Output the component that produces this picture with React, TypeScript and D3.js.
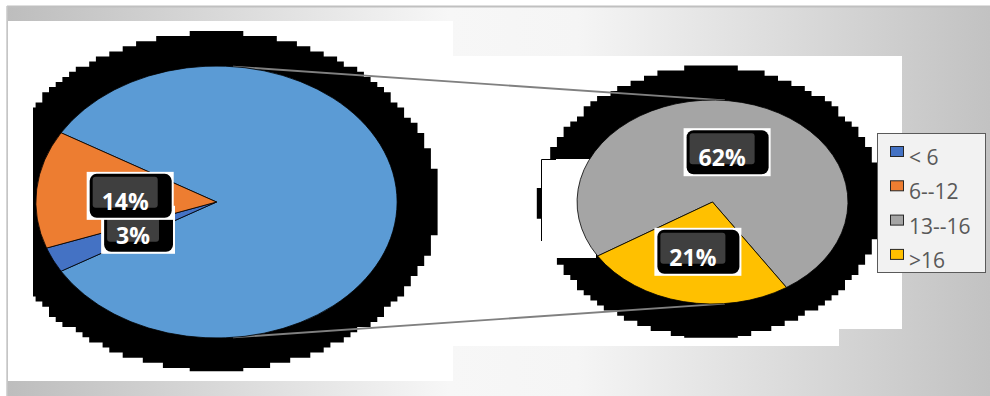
import React from "react";
import * as d3 from "d3";

// ---- data ----
const categories = ["< 6", "6--12", "13--16", ">16"];
const values = [3, 14, 62, 21];
const colors = ["#4472C4", "#ED7D31", "#A5A5A5", "#FFC000"];
const otherColor = "#5B9BD5";
const secondPlotCount = 2;

// ---- layout ----
const W = 990;
const H = 396;
const SX = 1.328; // horizontal stretch of the picture
const big = { cx: 216.5, cy: 202, r: 136 };
const small = { cx: 712.5, cy: 202, r: 102 };
const secondStartDeg = -122;
const labelFont = "bold 23px 'Open Sans'";
const legendFont = "21px 'Open Sans'";

function measure(text: string, font: string): number {
  if (typeof document === "undefined") return text.length * 12;
  const c = document.createElement("canvas").getContext("2d");
  if (!c) return text.length * 12;
  c.font = font;
  return c.measureText(text).width;
}

function stairPath(cx: number, cy: number, rx: number, ry: number, cellW: number, cellH: number, minX: number) {
  let d = "";
  const top = cy - ry;
  const n = Math.ceil((2 * ry) / cellH);
  for (let i = 0; i < n; i++) {
    const y0 = top + i * cellH;
    const y1 = Math.min(y0 + cellH, cy + ry);
    const crosses = y0 <= cy && y1 >= cy;
    const yOuter = crosses ? cy : Math.abs(y0 - cy) > Math.abs(y1 - cy) ? y0 : y1;
    const t = Math.min(1, Math.abs(yOuter - cy) / (ry + 1.5));
    const hw = rx * Math.sqrt(1 - t * t);
    let l = cx + Math.round(-hw / cellW) * cellW;
    let r = cx + Math.round(hw / cellW) * cellW;
    if (r - l < cellW) { l = cx - cellW * 3; r = cx + cellW * 3; }
    l = Math.max(l, minX);
    d += `M${l},${y0}H${r}V${y1 + 0.3}H${l}Z`;
  }
  return d;
}

function Label({ cx, cy, text }: { cx: number; cy: number; text: string }) {
  const tw = measure(text, labelFont);
  const w = tw + 40;
  const h = 48;
  const x = cx - w / 2;
  const y = cy - h / 2;
  return (
    <g>
      <rect x={x} y={y} width={w} height={h} fill="#ffffff" />
      <rect x={x + 3} y={y + 2} width={w - 5} height={h - 4} rx={7} fill="#000000" />
      <rect x={x + 6} y={y + 5} width={w - 22} height={h - 17} rx={3} fill="#3f3f3f" />
      <text
        x={x + 6 + (w - 22) / 2}
        y={y + 38}
        textAnchor="middle"
        fill="#ffffff"
        style={{ font: labelFont }}
      >
        {text}
      </text>
    </g>
  );
}

export default function App() {
  const total = d3.sum(values);
  const firstCount = values.length - secondPlotCount;
  const otherValue = d3.sum(values.slice(firstCount));
  const pct = (v: number) => `${Math.round((v / total) * 100)}%`;

  // primary pie: "other" slice centred pointing right
  const bigData = [
    { key: "other", value: otherValue, color: otherColor, label: "" },
    ...values.slice(0, firstCount).map((v, i) => ({ key: categories[i], value: v, color: colors[i], label: pct(v) })),
  ];
  const otherFrac = otherValue / total;
  const bigStart = Math.PI / 2 - otherFrac * Math.PI;
  const bigArcs = d3
    .pie<any>()
    .sort(null)
    .value((d) => d.value)
    .startAngle(bigStart)
    .endAngle(bigStart + 2 * Math.PI)(bigData);

  const smallData = values.slice(firstCount).map((v, i) => ({
    key: categories[firstCount + i],
    value: v,
    color: colors[firstCount + i],
    label: pct(v),
  }));
  const sStart = (secondStartDeg * Math.PI) / 180;
  const smallArcs = d3
    .pie<any>()
    .sort(null)
    .value((d) => d.value)
    .startAngle(sStart)
    .endAngle(sStart + 2 * Math.PI)(smallData);

  const bigArc = d3.arc<any>().innerRadius(0).outerRadius(big.r);
  const smallArc = d3.arc<any>().innerRadius(0).outerRadius(small.r);
  const bigLabelArc = d3.arc<any>().innerRadius(big.r * 0.48).outerRadius(big.r * 0.48);
  const smallLabelArc = d3.arc<any>().innerRadius(small.r * 0.5).outerRadius(small.r * 0.5);

  // external tangent connector lines (computed in unstretched space)
  const dist = (small.cx - big.cx) / SX;
  const th = Math.acos((big.r - small.r) / dist);
  const conn = [-1, 1].map((s) => ({
    x1: big.cx + SX * big.r * Math.cos(th),
    y1: big.cy + s * big.r * Math.sin(th),
    x2: small.cx + SX * small.r * Math.cos(th),
    y2: small.cy + s * small.r * Math.sin(th),
  }));

  const pad = 34;
  const bigShadow = stairPath(big.cx, big.cy - 1, (big.r + pad) * 1.31, big.r + pad, 6.7, 5.1, 33);
  const smallShadow = stairPath(small.cx - 1.5, small.cy - 0.5, (small.r + pad) * 1.268, small.r + pad, 6.7, 5.1, 0);

  const legendX = 877;
  const legendY = 133;
  const legendRow = 34.3;

  return (
    <svg
      width={W}
      height={H}
      style={{ position: "absolute", left: 0, top: 0, background: "#ffffff" }}
      xmlns="http://www.w3.org/2000/svg"
    >
      <defs>
        <linearGradient id="bg" x1="0" x2="1" y1="0" y2="0">
          <stop offset="0" stopColor="#bdbdbd" />
          <stop offset="0.45" stopColor="#f7f7f7" />
          <stop offset="0.58" stopColor="#f5f5f5" />
          <stop offset="1" stopColor="#c2c2c2" />
        </linearGradient>
      </defs>

      {/* background frame */}
      <rect x={7} y={6} width={W - 7} height={H - 6} fill="url(#bg)" />
      <line x1={7} x2={W} y1={6.5} y2={6.5} stroke="#c0c0c0" strokeWidth={2} />
      <line x1={7} x2={7} y1={6} y2={H} stroke="#c8c8c8" strokeWidth={1.5} />
      <rect x={8} y={21} width={445} height={360} fill="#ffffff" />
      <rect x={453} y={56} width={449} height={273} fill="#ffffff" />
      <rect x={453} y={329} width={386} height={17} fill="#ffffff" />

      {/* shadows */}
      <path d={bigShadow} fill="#000000" />
      <path d={smallShadow} fill="#000000" />
      <rect x={541} y={159} width={55} height={99} fill="#ffffff" />
      <path d="M541.5,241V159.5H556" fill="none" stroke="#000000" strokeWidth={1} />

      {/* connector lines */}
      {conn.map((c, i) => (
        <line key={i} x1={c.x1} y1={c.y1} x2={c.x2} y2={c.y2} stroke="#808080" strokeWidth={1.8} />
      ))}

      {/* primary pie */}
      <g transform={`translate(${big.cx},${big.cy}) scale(${SX},1)`}>
        {bigArcs.map((a, i) => (
          <path
            key={i}
            d={bigArc(a) || ""}
            fill={a.data.color}
            stroke="#000000"
            strokeWidth={0.8}
            vectorEffect="non-scaling-stroke"
          />
        ))}
      </g>

      {/* secondary pie */}
      <g transform={`translate(${small.cx},${small.cy}) scale(${SX},1)`}>
        {smallArcs.map((a, i) => (
          <path
            key={i}
            d={smallArc(a) || ""}
            fill={a.data.color}
            stroke="#000000"
            strokeWidth={0.8}
            vectorEffect="non-scaling-stroke"
          />
        ))}
      </g>

      {/* labels */}
      {bigArcs
        .filter((a) => a.data.label)
        .map((a, i) => {
          const [x, y] = bigLabelArc.centroid(a);
          return <Label key={"b" + i} cx={big.cx + x * SX} cy={big.cy + y} text={a.data.label} />;
        })}
      {smallArcs.map((a, i) => {
        const [x, y] = smallLabelArc.centroid(a);
        return <Label key={"s" + i} cx={small.cx + x * SX} cy={small.cy + y} text={a.data.label} />;
      })}

      {/* legend */}
      <rect x={legendX + 0.5} y={legendY + 0.5} width={108} height={139} fill="#f2f2f2" stroke="#5a5a5a" strokeWidth={1} />
      {categories.map((c, i) => (
        <g key={c} transform={`translate(${legendX + 13},${legendY + 13 + i * legendRow})`}>
          <rect x={0.5} y={0.5} width={13} height={10} fill={colors[i]} stroke="#262626" strokeWidth={1} />
          <text x={19} y={19} fill="#595959" style={{ font: legendFont }}>
            {c}
          </text>
        </g>
      ))}
    </svg>
  );
}
